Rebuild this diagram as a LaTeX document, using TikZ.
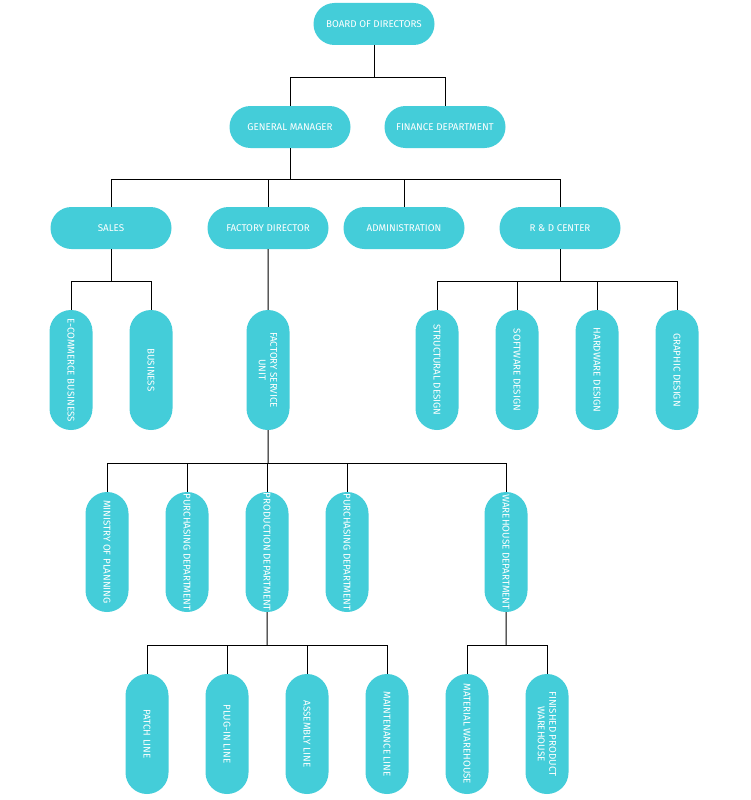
\documentclass[tikz,border=0pt]{standalone}
\usepackage{fontspec}
\setmainfont{Fira Sans}
\usetikzlibrary{positioning,shapes.misc}
\definecolor{boxcyan}{HTML}{44CDD9}

\begin{document}
\begin{tikzpicture}[
  x=1pt, y=-1pt,
  box/.style={rounded rectangle, fill=boxcyan, text=white, align=center, minimum width=123pt, minimum height=42pt, inner sep=1pt, font=\fontsize{9.8}{11.5}\selectfont},
  vbox/.style={box, rotate=-90, minimum width=122pt, minimum height=43pt},
  link/.style={line width=1pt}
]
\useasboundingbox[fill=white] (0,0) rectangle (750,800);

% top levels
\node[box] (board) at (374,24) {BOARD OF DIRECTORS};
\node[box] (gm) at (290,127) {GENERAL MANAGER};
\node[box] (finance) at (445,127) {FINANCE DEPARTMENT};
\node[box] (sales) at (111,228) {SALES};
\node[box] (factory) at (268,228) {FACTORY DIRECTOR};
\node[box] (admin) at (404,228) {ADMINISTRATION};
\node[box] (rnd) at (560,228) {R \& D CENTER};

% vertical units
\node[vbox] (ecom) at (71,370) {E-COMMERCE BUSINESS};
\node[vbox] (business) at (151,370) {BUSINESS};
\node[vbox] (fsu) at (268,370) {FACTORY SERVICE\\ UNIT};
\node[vbox] (structural) at (437,370) {STRUCTURAL DESIGN};
\node[vbox] (software) at (517,370) {SOFTWARE DESIGN};
\node[vbox] (hardware) at (597,370) {HARDWARE DESIGN};
\node[vbox] (graphic) at (677,370) {GRAPHIC DESIGN};

\node[vbox] (planning) at (107,552) {MINISTRY OF PLANNING};
\node[vbox] (purchA) at (187,552) {PURCHASING DEPARTMENT};
\node[vbox] (production) at (267,552) {PRODUCTION DEPARTMENT};
\node[vbox] (purchB) at (347,552) {PURCHASING DEPARTMENT};
\node[vbox] (warehouse) at (506,552) {WAREHOUSE DEPARTMENT};

\node[vbox] (patch) at (147,734) {PATCH LINE};
\node[vbox] (plugin) at (227,734) {PLUG-IN LINE};
\node[vbox] (assembly) at (307,734) {ASSEMBLY LINE};
\node[vbox] (maint) at (387,734) {MAINTENANCE LINE};
\node[vbox] (material) at (467,734) {MATERIAL WAREHOUSE};
\node[vbox] (finished) at (547,734) {FINISHED PRODUCT\\ WAREHOUSE};

% bus points
\coordinate (busA) at (374,77);
\coordinate (busB) at (290,179);
\coordinate (busC) at (111,281);
\coordinate (busD) at (560,281);
\coordinate (busE) at (268,463);
\coordinate (busF) at (267,645);
\coordinate (busG) at (506,645);

\draw[link] (board) -- (busA);
\draw[link] (busA) -| (gm);
\draw[link] (busA) -| (finance);
\draw[link] (gm) -- (busB);
\draw[link] (busB) -| (sales);
\draw[link] (busB) -| (factory);
\draw[link] (busB) -| (admin);
\draw[link] (busB) -| (rnd);
\draw[link] (sales) -- (busC);
\draw[link] (busC) -| (ecom);
\draw[link] (busC) -| (business);
\draw[link] (factory) -- (fsu);
\draw[link] (rnd) -- (busD);
\draw[link] (busD) -| (structural);
\draw[link] (busD) -| (software);
\draw[link] (busD) -| (hardware);
\draw[link] (busD) -| (graphic);
\draw[link] (fsu) -- (busE);
\draw[link] (busE) -| (planning);
\draw[link] (busE) -| (purchA);
\draw[link] (busE) -| (production);
\draw[link] (busE) -| (purchB);
\draw[link] (busE) -| (warehouse);
\draw[link] (production) -- (busF);
\draw[link] (busF) -| (patch);
\draw[link] (busF) -| (plugin);
\draw[link] (busF) -| (assembly);
\draw[link] (busF) -| (maint);
\draw[link] (warehouse) -- (busG);
\draw[link] (busG) -| (material);
\draw[link] (busG) -| (finished);
\end{tikzpicture}
\end{document}
